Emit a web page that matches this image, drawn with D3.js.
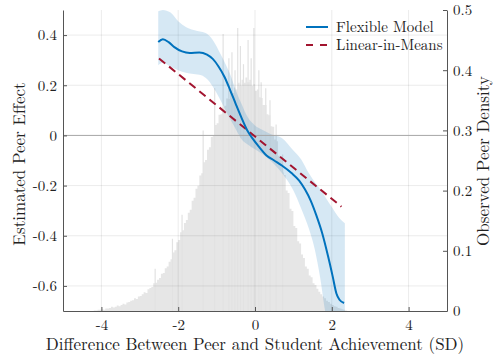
<!DOCTYPE html>
<html>
<head>
<meta charset="utf-8">
<script src="https://cdn.jsdelivr.net/npm/d3@7"></script>
<style>
  body { margin: 0; background: #fff; }
  svg { display: block; }
</style>
</head>
<body>
<svg id="chart" width="495" height="354"></svg>
<script>
// observed peer density, bins of 0.05 starting at -4.2
const binStart = -4.2
const binWidth = 0.05
const density = [
  0.001, 0.001, 0.002, 0.002, 0.003, 0.002, 0.004, 0.004, 0.005, 0.007,
  0.006, 0.007, 0.009, 0.008, 0.010, 0.012, 0.011, 0.014, 0.015, 0.017,
  0.018, 0.021, 0.020, 0.024, 0.025, 0.028, 0.031, 0.030, 0.036, 0.038,
  0.040, 0.046, 0.047, 0.052, 0.055, 0.062, 0.063, 0.071, 0.074, 0.082,
  0.086, 0.097, 0.101, 0.114, 0.118, 0.131, 0.134, 0.146, 0.151, 0.163,
  0.168, 0.183, 0.188, 0.203, 0.208, 0.225, 0.229, 0.247, 0.251, 0.268,
  0.272, 0.289, 0.292, 0.309, 0.312, 0.326, 0.327, 0.339, 0.341, 0.353,
  0.352, 0.364, 0.362, 0.371, 0.368, 0.379, 0.374, 0.384, 0.379, 0.388,
  0.380, 0.384, 0.374, 0.377, 0.366, 0.368, 0.355, 0.354, 0.342, 0.342,
  0.327, 0.325, 0.307, 0.306, 0.285, 0.282, 0.258, 0.256, 0.230, 0.226,
  0.200, 0.196, 0.170, 0.166, 0.141, 0.138, 0.116, 0.112, 0.094, 0.088,
  0.074, 0.070, 0.059, 0.056, 0.046, 0.043, 0.037, 0.032, 0.028, 0.024,
  0.021, 0.017, 0.015, 0.012, 0.010, 0.008, 0.007, 0.005, 0.004, 0.003,
  0.002, 0.001
]
// thin spikes standing out of the histogram
const spikeX = [-2.6, -2.15, -1.9, -1.35, -1.05, -0.83, -0.68, -0.6, -0.52, -0.45, -0.38, -0.3, -0.18, -0.1, -0.03, 0.1, 0.16, 0.28, 0.39, 0.55, 0.72]
const spikeY = [0.07, 0.12, 0.16, 0.30, 0.37, 0.46, 0.42, 0.43, 0.40, 0.47, 0.44, 0.41, 0.45, 0.42, 0.47, 0.40, 0.38, 0.37, 0.35, 0.31, 0.26]

// flexible model estimate
const flexX = [-2.52, -2.4, -2.25, -2.1, -1.9, -1.7, -1.45, -1.25, -1.1, -0.95, -0.8, -0.65, -0.5, -0.35, -0.2, -0.05, 0.1, 0.3, 0.5, 0.7, 0.95, 1.15, 1.3, 1.45, 1.6, 1.75, 1.9, 2.02, 2.12, 2.2, 2.32]
const flexY = [0.372, 0.383, 0.372, 0.352, 0.335, 0.329, 0.331, 0.322, 0.305, 0.275, 0.235, 0.182, 0.125, 0.07, 0.02, -0.015, -0.045, -0.08, -0.1, -0.12, -0.15, -0.18, -0.215, -0.26, -0.32, -0.39, -0.48, -0.56, -0.63, -0.655, -0.668]

// confidence band of the flexible model
const bandX = [-2.52, -2.4, -2.2, -2.0, -1.8, -1.6, -1.4, -1.25, -1.1, -0.95, -0.8, -0.65, -0.5, -0.35, -0.2, 0, 0.2, 0.4, 0.7, 1.0, 1.2, 1.4, 1.55, 1.7, 1.85, 2.0, 2.2, 2.34]
const bandHi = [0.495, 0.5, 0.49, 0.455, 0.432, 0.42, 0.413, 0.405, 0.38, 0.34, 0.295, 0.245, 0.18, 0.125, 0.075, 0.04, 0.022, 0.006, -0.01, -0.06, -0.095, -0.15, -0.185, -0.215, -0.25, -0.285, -0.33, -0.35]
const bandLo = [0.28, 0.29, 0.275, 0.26, 0.25, 0.245, 0.24, 0.225, 0.195, 0.155, 0.11, 0.065, 0.025, -0.015, -0.035, -0.055, -0.075, -0.1, -0.15, -0.22, -0.29, -0.37, -0.45, -0.57, -0.72, -0.8, -0.8, -0.8]

// linear-in-means estimate
const linX = [-2.5, 2.25]
const linY = [0.307, -0.284]

// ticks
const xTicks = [-4, -2, 0, 2, 4]
const yTicks = [-0.6, -0.4, -0.2, 0, 0.2, 0.4]
const y2Ticks = [0, 0.1, 0.2, 0.3, 0.4, 0.5]
const legendLabels = ['Flexible Model', 'Linear-in-Means']

const font = '"Latin Modern Roman", "Liberation Serif", serif'
const m = { left: 63, right: 48, top: 10, bottom: 43 }
const W = 495, H = 354
const svg = d3.select('#chart')

const x = d3.scaleLinear().domain([-5, 5]).range([m.left, W - m.right])
const y = d3.scaleLinear().domain([-0.7, 0.5]).range([H - m.bottom, m.top])
const y2 = d3.scaleLinear().domain([0, 0.5]).range([H - m.bottom, m.top])

svg.append('defs').append('clipPath').attr('id', 'plot')
  .append('rect')
  .attr('x', m.left).attr('y', m.top)
  .attr('width', W - m.left - m.right).attr('height', H - m.top - m.bottom)

const plot = svg.append('g').attr('clip-path', 'url(#plot)')

// histogram
const bins = density.map((d, i) => ({ x: binStart + i * binWidth, d }))
bins.push({ x: binStart + density.length * binWidth, d: 0 })
plot.append('path')
  .datum(bins)
  .attr('fill', '#e6e6e6')
  .attr('d', d3.area().curve(d3.curveStepAfter)
    .x(b => x(b.x)).y0(y2(0)).y1(b => y2(b.d)))

plot.selectAll('line.spike')
  .data(spikeX)
  .join('line')
  .attr('class', 'spike')
  .attr('x1', d => x(d)).attr('x2', d => x(d))
  .attr('y1', y2(0)).attr('y2', (d, i) => y2(spikeY[i]))
  .attr('stroke', '#e2e2e2').attr('stroke-width', 1.2)

// grid
plot.append('g').selectAll('line')
  .data(xTicks)
  .join('line')
  .attr('x1', d => x(d)).attr('x2', d => x(d))
  .attr('y1', m.top).attr('y2', H - m.bottom)
  .attr('stroke', '#000').attr('stroke-opacity', 0.08)
plot.append('g').selectAll('line')
  .data(yTicks.filter(d => d !== 0))
  .join('line')
  .attr('x1', m.left).attr('x2', W - m.right)
  .attr('y1', d => y(d)).attr('y2', d => y(d))
  .attr('stroke', '#000').attr('stroke-opacity', 0.08)

// confidence band
plot.append('path')
  .datum(bandX)
  .attr('fill', '#0072bd').attr('fill-opacity', 0.16)
  .attr('d', d3.area().curve(d3.curveMonotoneX)
    .x(d => x(d)).y0((d, i) => y(bandLo[i])).y1((d, i) => y(bandHi[i])))

// zero line
plot.append('line')
  .attr('x1', m.left).attr('x2', W - m.right)
  .attr('y1', y(0)).attr('y2', y(0))
  .attr('stroke', '#a6a6a6').attr('stroke-width', 1)

// linear-in-means
plot.append('path')
  .datum(linX)
  .attr('fill', 'none').attr('stroke', '#a2142f').attr('stroke-width', 2)
  .attr('stroke-dasharray', '8,5')
  .attr('d', d3.line().x(d => x(d)).y((d, i) => y(linY[i])))

// flexible model
plot.append('path')
  .datum(flexX)
  .attr('fill', 'none').attr('stroke', '#0072bd').attr('stroke-width', 2)
  .attr('d', d3.line().curve(d3.curveMonotoneX).x(d => x(d)).y((d, i) => y(flexY[i])))

// axes
const styleAxis = g => {
  g.select('.domain').attr('stroke', '#555')
  g.selectAll('.tick line').attr('stroke', '#555')
  g.selectAll('.tick text').attr('fill', '#222')
    .style('font-family', font).style('font-size', '15px')
}
const fmt = d => String(d)

svg.append('g')
  .attr('transform', `translate(0,${H - m.bottom})`)
  .call(d3.axisBottom(x).tickValues(xTicks).tickFormat(fmt).tickSizeInner(-4).tickSizeOuter(0).tickPadding(8))
  .call(styleAxis)
svg.append('g')
  .attr('transform', `translate(${m.left},0)`)
  .call(d3.axisLeft(y).tickValues(yTicks).tickFormat(fmt).tickSizeInner(-4).tickSizeOuter(0).tickPadding(6))
  .call(styleAxis)
svg.append('g')
  .attr('transform', `translate(${W - m.right},0)`)
  .call(d3.axisRight(y2).tickValues(y2Ticks).tickFormat(fmt).tickSizeInner(-4).tickSizeOuter(0).tickPadding(6))
  .call(styleAxis)

// axis titles
const title = (t, tr) => svg.append('text')
  .attr('transform', tr)
  .attr('text-anchor', 'middle').attr('fill', '#222')
  .style('font-family', font).style('font-size', '17px')
  .text(t)
title('Difference Between Peer and Student Achievement (SD)', 'translate(255,350)')
title('Estimated Peer Effect', 'translate(25,164) rotate(-90)')
title('Observed Peer Density', 'translate(489,161) rotate(-90)')

// legend
const legend = svg.append('g').attr('transform', 'translate(306,27)')
legendLabels.forEach((label, i) => {
  const row = legend.append('g').attr('transform', `translate(0,${i * 18})`)
  row.append('line')
    .attr('x1', 0).attr('x2', 22)
    .attr('stroke', i === 0 ? '#0072bd' : '#a2142f').attr('stroke-width', 2)
    .attr('stroke-dasharray', i === 0 ? null : '7,7')
  row.append('text')
    .attr('x', 30).attr('y', 5)
    .attr('fill', '#222')
    .style('font-family', font).style('font-size', '15px')
    .text(label)
})
</script>
</body>
</html>
